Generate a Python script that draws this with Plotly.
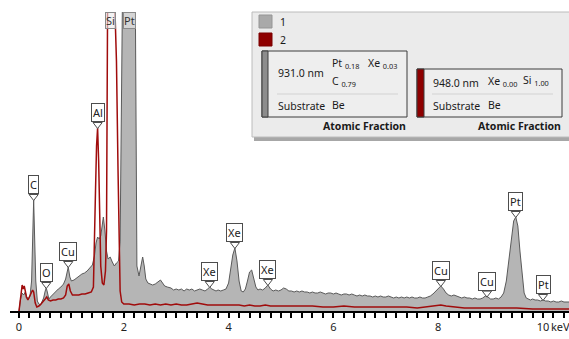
import numpy as np
import plotly.graph_objects as go

# ---------------- data ----------------
# Spectrum 1 (grey, filled)
grey_energy_low = [0.00, 0.03, 0.06, 0.09, 0.12, 0.15, 0.18, 0.21, 0.24, 0.26, 0.28, 0.30, 0.32, 0.35, 0.38,
                   0.41, 0.44, 0.47, 0.50, 0.52, 0.54, 0.57, 0.60, 0.65, 0.70, 0.75, 0.80, 0.85, 0.89, 0.92,
                   0.94, 0.97, 1.00, 1.05, 1.10, 1.15, 1.20, 1.25, 1.30, 1.35, 1.40, 1.44, 1.47, 1.50, 1.53,
                   1.56, 1.59, 1.61, 1.64, 1.67, 1.70, 1.74, 1.78, 1.82, 1.86, 1.90, 1.93, 1.96, 1.99, 2.21,
                   2.23, 2.25, 2.29, 2.33, 2.36, 2.39, 2.42, 2.46, 2.50, 2.55, 2.60, 2.65, 2.70, 2.74, 2.78,
                   2.83]
grey_counts_low = [0, 12, 18, 16, 19, 14, 12, 15, 30, 70, 111, 70, 30, 10, 7,
                   6, 9, 13, 20, 23, 19, 12, 14, 17, 20, 22, 24, 27, 32, 42,
                   44, 34, 30, 31, 33, 35, 37, 38, 40, 43, 46, 55, 68, 74, 72,
                   75, 90, 94, 80, 60, 52, 54, 49, 45, 48, 50, 70, 250, 400, 400,
                   200, 45, 35, 48, 54, 45, 32, 28, 27, 26, 27, 29, 31, 28, 25,
                   24]

grey_energy_mid = [2.90, 2.95, 3.00, 3.05, 3.10, 3.15, 3.20, 3.25, 3.30, 3.35, 3.40, 3.45, 3.50, 3.55, 3.60,
                   3.64, 3.68, 3.72, 3.76, 3.80, 3.85, 3.90, 3.95,
                   4.00, 4.04, 4.08, 4.12, 4.16, 4.20, 4.24, 4.28, 4.32, 4.36, 4.40, 4.44, 4.48, 4.52, 4.56,
                   4.60, 4.65, 4.70, 4.75, 4.80, 4.85, 4.90, 4.95]
grey_counts_mid = [23, 21, 22, 21, 22, 20, 22, 21, 22, 20, 21, 22, 21, 20, 22,
                   24, 22, 21, 20, 21, 20, 21, 22,
                   28, 40, 56, 63, 50, 30, 20, 19, 22, 30, 39, 41, 33, 24, 21,
                   22, 21, 23, 26, 22, 20, 21, 20]

grey_energy_tail = [5.00, 5.05, 5.10, 5.15, 5.20, 5.25, 5.30, 5.35, 5.40, 5.45, 5.50, 5.55, 5.60, 5.65, 5.70,
                    5.75, 5.80, 5.85, 5.90, 5.95, 6.00, 6.05, 6.10, 6.15, 6.20, 6.25, 6.30, 6.35, 6.40, 6.45,
                    6.50, 6.55, 6.60, 6.65, 6.70, 6.75, 6.80, 6.85, 6.90, 6.95, 7.00, 7.05, 7.10, 7.15, 7.20,
                    7.25, 7.30, 7.35, 7.40, 7.45, 7.50, 7.55, 7.60, 7.65, 7.70, 7.75, 7.80, 7.85]
grey_counts_tail = [21, 23, 22, 20, 20, 19, 20, 19, 20, 19, 19, 18, 19, 18, 18,
                    19, 18, 17, 18, 18, 17, 18, 17, 16, 17, 17, 16, 17, 16, 15,
                    16, 15, 16, 15, 15, 14, 15, 14, 15, 14, 14, 15, 14, 13, 14,
                    13, 14, 13, 14, 13, 14, 13, 13, 14, 13, 13, 14, 15]

grey_energy_high = [7.90, 7.95, 8.00, 8.05, 8.10, 8.15, 8.20, 8.25, 8.30, 8.35, 8.40, 8.45, 8.50, 8.55, 8.60,
                    8.65, 8.70, 8.75, 8.80, 8.85, 8.90, 8.95, 9.00, 9.05, 9.10, 9.15, 9.20, 9.25, 9.30, 9.35,
                    9.40, 9.44, 9.48, 9.52, 9.56, 9.60, 9.64, 9.68, 9.72, 9.76, 9.80, 9.85, 9.90, 9.95, 10.00,
                    10.05, 10.10, 10.15, 10.20, 10.25, 10.30, 10.35, 10.40, 10.45, 10.50]
grey_counts_high = [17, 20, 23, 25, 22, 18, 16, 15, 16, 15, 14, 13, 14, 13, 13,
                    12, 13, 12, 12, 13, 15, 14, 12, 12, 13, 12, 14, 18, 30, 50,
                    75, 90, 94, 85, 60, 35, 18, 13, 12, 11, 12, 11, 11, 10, 11,
                    10, 10, 9, 10, 9, 9, 10, 9, 9, 9]

# Spectrum 2 (dark red line)
red_energy = [0.00, 0.02, 0.04, 0.06, 0.08, 0.10, 0.12, 0.14, 0.17, 0.20, 0.23, 0.26, 0.28, 0.31, 0.34,
              0.38, 0.42, 0.46, 0.50, 0.53, 0.56, 0.60, 0.65, 0.70, 0.75, 0.80, 0.85, 0.89, 0.92, 0.95,
              0.98, 1.02, 1.08, 1.14, 1.20, 1.26, 1.32, 1.38, 1.42, 1.44, 1.46, 1.48, 1.50, 1.52, 1.54,
              1.56, 1.59, 1.62, 1.65, 1.67, 1.69, 1.71, 1.80, 1.82, 1.86, 1.89, 1.91, 1.93, 1.96, 2.00,
              2.10, 2.20, 2.30, 2.40, 2.50, 2.60, 2.70, 2.80, 2.90, 3.00, 3.10, 3.20, 3.30, 3.40, 3.50,
              3.60, 3.70, 3.80, 3.90, 4.00, 4.10, 4.20, 4.30, 4.40, 4.50, 4.60, 4.70, 4.80, 4.90, 5.00,
              5.20, 5.40, 5.60, 5.80, 6.00, 6.20, 6.40, 6.60, 6.80, 7.00, 7.20, 7.40, 7.60, 7.80, 7.95,
              8.05, 8.15, 8.30, 8.50, 8.70, 9.00, 9.30, 9.50, 9.80, 10.10, 10.50]
red_counts = [0, 10, 22, 26, 22, 25, 20, 14, 11, 14, 18, 21, 19, 8, 4,
              5, 7, 9, 12, 14, 11, 10, 11, 11, 12, 12, 13, 16, 25, 27,
              20, 16, 16, 16, 17, 17, 18, 19, 24, 60, 120, 165, 183, 150, 90,
              45, 28, 26, 40, 80, 300, 600, 600, 320, 250, 140, 60, 20, 9, 7,
              7, 6, 7, 7, 6, 7, 6, 7, 6, 7, 6, 6, 7, 8, 7,
              6, 6, 6, 6, 6, 6, 6, 5, 6, 5, 5, 6, 5, 5, 5,
              5, 5, 5, 4, 4, 5, 4, 4, 4, 4, 4, 4, 3, 4, 5,
              6, 5, 4, 3, 3, 3, 3, 3, 2, 2, 2]

# Peak markers
label_text = ["C", "O", "Cu", "Al", "Xe", "Xe", "Xe", "Cu", "Cu", "Pt", "Pt"]
label_energy = [0.28, 0.52, 0.94, 1.50, 3.64, 4.12, 4.75, 8.05, 8.93, 9.48, 10.00]
offscale_text = ["Si", "Pt"]
offscale_energy = [1.74, 2.11]

# Axis ticks
tick_values = [0, 2, 4, 6, 8, 10]
tick_labels = ["0", "2", "4", "6", "8", "10"]

# Legend / result panel text
series_names = ["1", "2"]

# ---------------------------------------------------------------
grey_energy = grey_energy_low + grey_energy_mid + grey_energy_tail + grey_energy_high
grey_counts = grey_counts_low + grey_counts_mid + grey_counts_tail + grey_counts_high
assert len(grey_energy) == len(grey_counts)
assert len(red_energy) == len(red_counts)

FONT = "Noto Sans"
W, H = 569, 339
ML, MR, MT, MB = 10, 0, 12, 28
PW, PH = W - ML - MR, H - MT - MB

def px(x):
    return (x - ML) / PW

def py(y):
    return (H - MB - y) / PH

fig = go.Figure()

fig.add_trace(go.Scatter(x=grey_energy, y=grey_counts, mode="lines", fill="tozeroy",
                         fillcolor="#b5b5b5", line=dict(color="#5a5a5a", width=1),
                         name=series_names[0], showlegend=False, hoverinfo="skip"))
fig.add_trace(go.Scatter(x=red_energy, y=red_counts, mode="lines",
                         line=dict(color="#a00c0c", width=1.5),
                         name=series_names[1], showlegend=False, hoverinfo="skip"))

# tip heights derived from the spectra
tips = [max(np.interp(e, grey_energy, grey_counts), np.interp(e, red_energy, red_counts))
        for e in label_energy]

fig.add_trace(go.Scatter(x=label_energy, y=[t + 3.5 for t in tips], mode="markers",
                         marker=dict(symbol="triangle-down", size=8, color="white",
                                     line=dict(color="#4d4d4d", width=1)),
                         showlegend=False, hoverinfo="skip", cliponaxis=False))

annotations = []
for t, e, tip in zip(label_text, label_energy, tips):
    annotations.append(dict(x=e, y=tip, xref="x", yref="y", text=t, showarrow=False,
                            yanchor="bottom", xanchor="center", yshift=6,
                            font=dict(family=FONT, size=11, color="#222"),
                            bgcolor="white", bordercolor="#4d4d4d", borderwidth=1, borderpad=1))
for t, e in zip(offscale_text, offscale_energy):
    annotations.append(dict(x=e, y=1, xref="x", yref="paper", text=t, showarrow=False,
                            yanchor="top", xanchor="center",
                            font=dict(family=FONT, size=11, color="#333"),
                            bgcolor="rgba(235,235,235,0.6)", bordercolor="#8a8a8a",
                            borderwidth=1, borderpad=0))

annotations.append(dict(x=10, y=0, xref="x", yref="paper", text="keV", showarrow=False,
                        xanchor="left", yanchor="top", xshift=6, yshift=-6,
                        font=dict(family=FONT, size=11, color="#222")))

# ---- result panel (shapes + text in paper coords) ----
shapes = []
def rect(x0, y0, x1, y1, fill, line="rgba(0,0,0,0)", lw=0):
    shapes.append(dict(type="rect", xref="paper", yref="paper",
                       x0=px(x0), x1=px(x1), y0=py(y1), y1=py(y0),
                       fillcolor=fill, line=dict(color=line, width=lw), layer="above"))

def hline(x0, x1, y, color):
    shapes.append(dict(type="line", xref="paper", yref="paper",
                       x0=px(x0), x1=px(x1), y0=py(y), y1=py(y),
                       line=dict(color=color, width=1), layer="above"))

rect(254, 135, 580, 141, "rgba(60,60,60,0.45)")
rect(252, 12, 580, 137, "#ebebeb", "#bcbcbc", 1)
rect(259, 15, 272, 28, "#a9a9a9", "#959595", 1)
rect(259, 33, 272, 46, "#8e0000", "#7a0000", 1)
rect(262, 51, 407, 117, "#eeeeee", "#3c3c3c", 1)
rect(262, 51, 268, 117, "#8c8c8c", "#3c3c3c", 1)
hline(277, 398, 94, "#d2d2d2")
rect(417, 69, 562, 117, "#eeeeee", "#3c3c3c", 1)
rect(417, 69, 424, 117, "#8e0000", "#3c3c3c", 1)
hline(432, 553, 94, "#d2d2d2")

def txt(x, y, s, anchor="left", bold=False, size=10.5):
    annotations.append(dict(x=px(x), y=py(y), xref="paper", yref="paper",
                            text=("<b>%s</b>" % s) if bold else s, showarrow=False,
                            xanchor=anchor, yanchor="middle",
                            font=dict(family=FONT, size=size, color="#1a1a1a")))

txt(278, 22, series_names[0])
txt(278, 40, series_names[1])
txt(276, 73, "931.0 nm")
txt(330, 63, "Pt <sub>0.18</sub>")
txt(366, 63, "Xe <sub>0.03</sub>")
txt(330, 82, "C <sub>0.79</sub>")
txt(276, 106, "Substrate")
txt(330, 105, "Be")
txt(408, 126, "Atomic Fraction", anchor="right", bold=True)
txt(431, 83, "948.0 nm")
txt(486, 82, "Xe <sub>0.00</sub>")
txt(521, 81, "Si <sub>1.00</sub>")
txt(431, 106, "Substrate")
txt(486, 105, "Be")
txt(563, 126, "Atomic Fraction", anchor="right", bold=True)

x_left = (ML - 19) / 52.4
x_right = (W - 19) / 52.4

fig.update_layout(
    width=W, height=H,
    margin=dict(l=ML, r=MR, t=MT, b=MB),
    paper_bgcolor="white", plot_bgcolor="white",
    showlegend=False,
    shapes=shapes, annotations=annotations,
    xaxis=dict(range=[x_left, x_right], showgrid=False, zeroline=False,
               showline=True, linecolor="black", linewidth=2,
               tickmode="array", tickvals=tick_values, ticktext=tick_labels,
               ticks="outside", ticklen=5, tickwidth=1.5, tickcolor="black",
               tickfont=dict(family=FONT, size=11, color="#222"),
               minor=dict(tickmode="linear", tick0=0, dtick=0.2, ticks="outside",
                          ticklen=5, tickwidth=1.5, tickcolor="black", showgrid=False)),
    yaxis=dict(range=[0, PH], visible=False, fixedrange=True),
    font=dict(family=FONT),
)

fig.write_html("out.html", config={"displayModeBar": False},
               post_script="document.body.style.margin='0px';document.body.style.overflow='hidden';")
